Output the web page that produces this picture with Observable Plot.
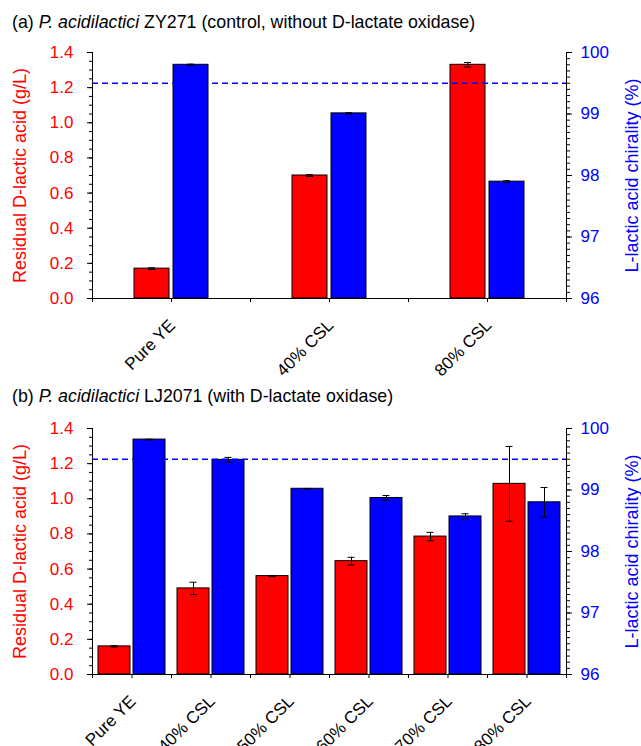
<!DOCTYPE html>
<html><head><meta charset="utf-8">
<script src="https://cdn.jsdelivr.net/npm/d3@7"></script>
<script src="https://cdn.jsdelivr.net/npm/@observablehq/plot@0.6"></script>
<style>
body{margin:0;background:#fff;font-family:"Liberation Sans",Arial,sans-serif;}
#wrap{width:641px;}
.title{height:40px;box-sizing:border-box;padding-left:12px;font-size:17.8px;line-height:20px;color:#000;white-space:nowrap;}
#ta{padding-top:12px}
#tb{padding-top:6px}
svg{display:block}
</style></head><body><div id="wrap">
<div class="title" id="ta">(a) <i>P. acidilactici</i> ZY271 (control, without D-lactate oxidase)</div>
<div id="pa"></div>
<div class="title" id="tb">(b) <i>P. acidilactici</i> LJ2071 (with D-lactate oxidase)</div>
<div id="pb"></div>
</div>
<script>
// ---- Data: panel (a) ----
const catsA = ["Pure YE", "40% CSL", "80% CSL"];
const dLacticA = [0.17, 0.70, 1.33];
const dLacticErrA = [0.005, 0.005, 0.013];
const chiralityA = [99.80, 99.01, 97.90];
const chiralityErrA = [0.01, 0.01, 0.015];

// ---- Data: panel (b) ----
const catsB = ["Pure YE", "40% CSL", "50% CSL", "60% CSL", "70% CSL", "80% CSL"];
const dLacticB = [0.16, 0.49, 0.56, 0.645, 0.785, 1.085];
const dLacticErrB = [0.004, 0.035, 0.003, 0.022, 0.024, 0.213];
const chiralityB = [99.82, 99.49, 99.02, 98.87, 98.57, 98.80];
const chiralityErrB = [0.005, 0.04, 0.005, 0.04, 0.044, 0.24];

// reference line and axis ticks
const refChirality = 99.5;
const leftTicks = [0, 0.2, 0.4, 0.6, 0.8, 1.0, 1.2, 1.4];
const rightTicks = [96, 97, 98, 99, 100];
const yLabelLeft = "Residual D-lactic acid (g/L)";
const yLabelRight = "L-lactic acid chirality (%)";

const CH_MIN = 96, CH_MAX = 100, D_MAX = 1.4;
const toY = v => (v - CH_MIN) / (CH_MAX - CH_MIN) * D_MAX;
const fromY = y => CH_MIN + y / D_MAX * (CH_MAX - CH_MIN);

function panel({cats, d, de, l, le, barW, gap, height, marginTop, marginBottom}) {
  const W = 641, mL = 92, mR = 75;
  const BW = (W - mL - mR) / cats.length;
  const L = (BW - 2 * barW - gap) / 2;
  const off = (barW + gap) / 2;
  const capW = 7;
  const rows = cats.map((c, i) => ({cat: c, d: d[i], de: de[i], l: l[i], le: le[i]}));
  const last = cats[cats.length - 1];
  const minorLeft = d3.range(0, 29).map(i => i * 0.05);
  const minorRight = d3.range(0, 41).map(i => toY(96 + i * 0.1));
  return Plot.plot({
    width: W, height, marginLeft: mL, marginRight: mR, marginTop, marginBottom,
    style: {fontFamily: '"Liberation Sans", Arial, sans-serif', fontSize: "17px", background: "white", overflow: "visible", color: "black"},
    x: {domain: cats, padding: 0, label: null},
    y: {domain: [0, D_MAX], label: null},
    marks: [
      Plot.barY(rows, {x: "cat", y1: 0, y2: "d", fill: "#ff0000", stroke: "#000", strokeWidth: 1,
        insetLeft: L, insetRight: BW - L - barW}),
      Plot.barY(rows, {x: "cat", y1: 0, y2: r => toY(r.l), fill: "#0000ff", stroke: "#000", strokeWidth: 1,
        insetLeft: L + barW + gap, insetRight: L}),
      Plot.ruleY([toY(refChirality)], {stroke: "#0000ff", strokeWidth: 1.5, strokeDasharray: "6,4"}),
      // error bars red
      Plot.ruleX(rows, {x: "cat", y1: r => r.d - r.de, y2: r => r.d + r.de, dx: -off, stroke: "#000"}),
      Plot.tickY(rows, {x: "cat", y: r => r.d + r.de, stroke: "#000", insetLeft: BW / 2 - off - capW / 2, insetRight: BW / 2 + off - capW / 2}),
      Plot.tickY(rows, {x: "cat", y: r => r.d - r.de, stroke: "#000", insetLeft: BW / 2 - off - capW / 2, insetRight: BW / 2 + off - capW / 2}),
      // error bars blue
      Plot.ruleX(rows, {x: "cat", y1: r => toY(r.l - r.le), y2: r => toY(r.l + r.le), dx: off, stroke: "#000"}),
      Plot.tickY(rows, {x: "cat", y: r => toY(r.l + r.le), stroke: "#000", insetLeft: BW / 2 + off - capW / 2, insetRight: BW / 2 - off - capW / 2}),
      Plot.tickY(rows, {x: "cat", y: r => toY(r.l - r.le), stroke: "#000", insetLeft: BW / 2 + off - capW / 2, insetRight: BW / 2 - off - capW / 2}),
      // axis lines
      Plot.ruleY([0], {stroke: "#000"}),
      Plot.ruleX([cats[0]], {dx: -BW / 2, stroke: "#000"}),
      Plot.ruleX([last], {dx: BW / 2, stroke: "#000"}),
      // left axis
      Plot.axisY({ticks: minorLeft, tickSize: 3, fill: null, label: null}),
      Plot.axisY({ticks: leftTicks, tickSize: 5, fill: null, label: null}),
      Plot.axisY({ticks: leftTicks, tickSize: 0, tickPadding: 19, fill: "#ff0000", fontSize: 17, tickFormat: ".1f", label: null}),
      // right axis
      Plot.axisY({anchor: "right", ticks: minorRight, tickSize: 3, fill: null, label: null}),
      Plot.axisY({anchor: "right", ticks: rightTicks.map(toY), tickSize: 5, fill: null, label: null}),
      Plot.axisY({anchor: "right", ticks: rightTicks.map(toY), tickSize: 0, tickPadding: 14, fill: "#0000ff", fontSize: 17,
        tickFormat: y => String(Math.round(fromY(y))), label: null}),
      // x axis
      Plot.axisX({tickSize: 4, fill: null, label: null}),
      Plot.axisX({tickSize: 4, fill: null, label: null, dx: -BW / 2}),
      Plot.axisX({ticks: [last], tickSize: 4, fill: null, label: null, dx: BW / 2}),
      Plot.axisX({tickSize: 0, tickPadding: 24, tickRotate: -45, fill: "#000", fontSize: 17, dx: 1, label: null}),
      // axis titles
      Plot.text([yLabelLeft], {text: t => t, frameAnchor: "left", textAnchor: "middle", dx: -72, rotate: -90, fill: "#ff0000", fontSize: 18}),
      Plot.text([yLabelRight], {text: t => t, frameAnchor: "right", textAnchor: "middle", dx: 66, rotate: -90, fill: "#0000ff", fontSize: 18})
    ]
  });
}

document.getElementById("pa").append(panel({
  cats: catsA, d: dLacticA, de: dLacticErrA, l: chiralityA, le: chiralityErrA,
  barW: 35, gap: 4, height: 340, marginTop: 12, marginBottom: 82
}));
document.getElementById("pb").append(panel({
  cats: catsB, d: dLacticB, de: dLacticErrB, l: chiralityB, le: chiralityErrB,
  barW: 32, gap: 3, height: 326, marginTop: 8, marginBottom: 72
}));
</script>
</body></html>
